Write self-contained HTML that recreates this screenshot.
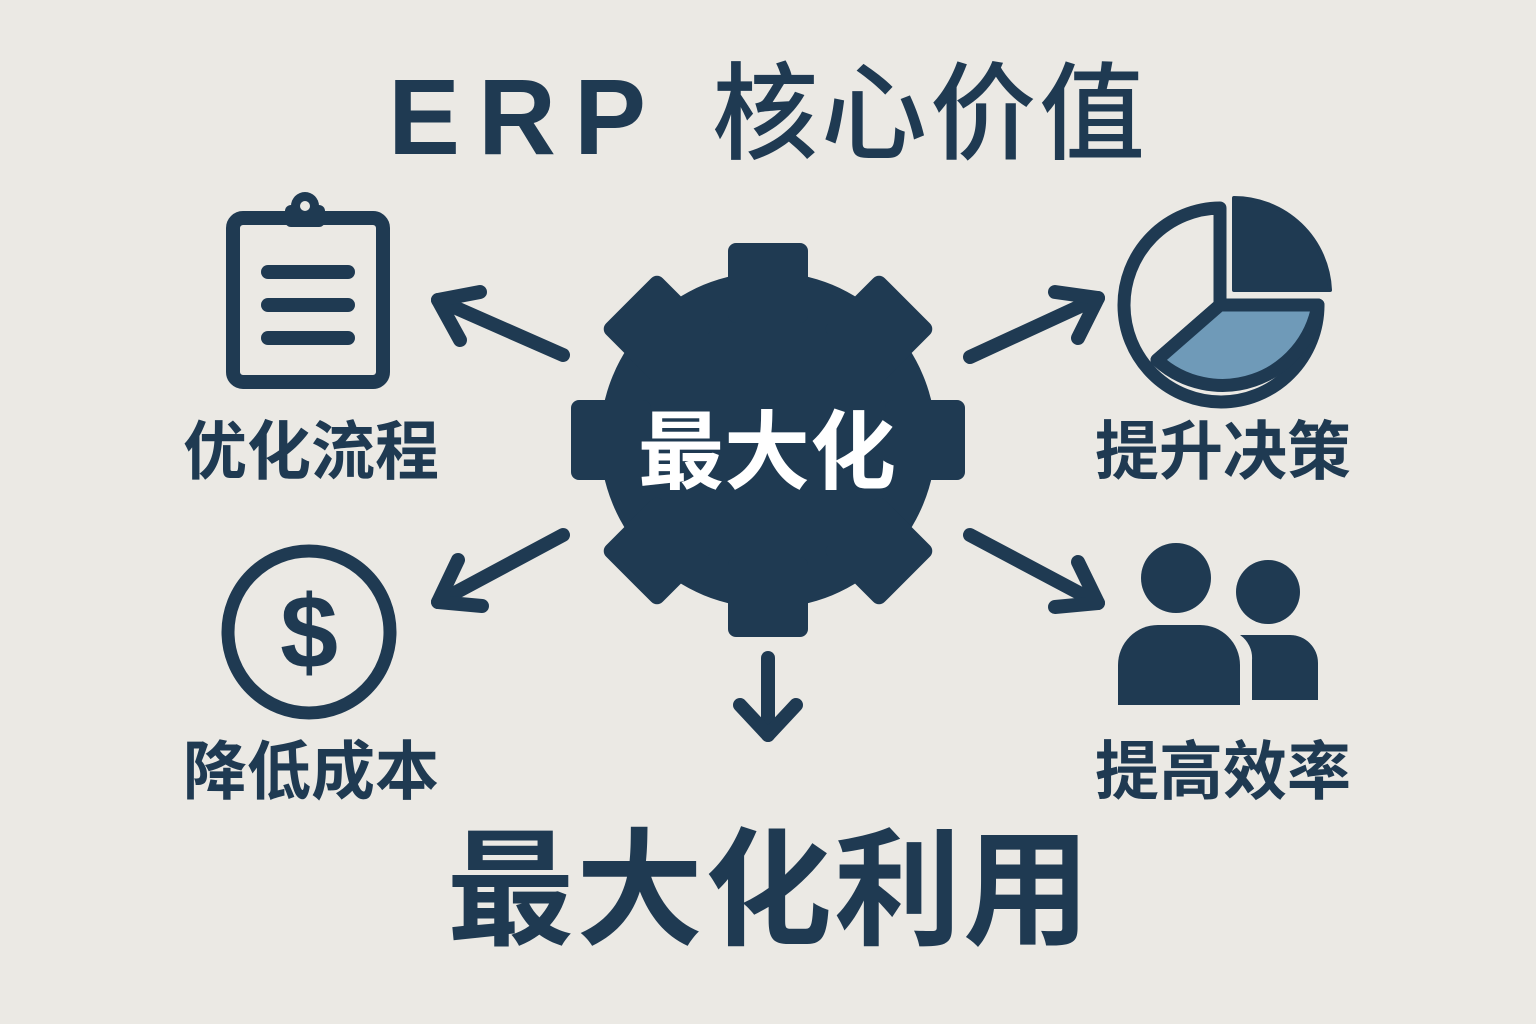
<!DOCTYPE html>
<html><head><meta charset="utf-8"><style>
body{margin:0;width:1536px;height:1024px;background:#ebe9e4;overflow:hidden;font-family:"Liberation Sans","Noto Sans CJK SC",sans-serif;}
.t{position:absolute;color:#1f3a52;font-weight:bold;white-space:nowrap;line-height:1;}
</style></head><body>
<svg width="1536" height="1024" style="position:absolute;left:0;top:0">
<g fill="#1f3a52" transform="translate(768,440)">
<circle r="168"/>
<g id="tooth"><rect x="-40" y="-197" width="80" height="80" rx="8"/></g>
<use href="#tooth" transform="rotate(45)"/><use href="#tooth" transform="rotate(90)"/>
<use href="#tooth" transform="rotate(135)"/><use href="#tooth" transform="rotate(180)"/>
<use href="#tooth" transform="rotate(225)"/><use href="#tooth" transform="rotate(270)"/>
<use href="#tooth" transform="rotate(315)"/>
</g>
<g stroke="#1f3a52" stroke-width="14" stroke-linecap="round" stroke-linejoin="round" fill="none">
<line x1="563" y1="355" x2="438" y2="300"/><polyline points="480,292 438,300 460,340"/>
<line x1="970" y1="357" x2="1098" y2="298"/><polyline points="1055,292 1098,298 1078,338"/>
<line x1="563" y1="535" x2="438" y2="602"/><polyline points="458,560 438,602 482,606"/>
<line x1="970" y1="535" x2="1098" y2="603"/><polyline points="1078,562 1098,603 1055,607"/>
<line x1="768" y1="658" x2="768" y2="735"/><polyline points="740,705 768,735 796,705"/>
<rect x="233" y="218" width="150" height="164" rx="10"/>
<line x1="268" y1="272" x2="348" y2="272"/><line x1="268" y1="305" x2="348" y2="305"/><line x1="268" y1="338" x2="348" y2="338"/>
<circle cx="309" cy="632" r="81" stroke-width="13"/>
<path d="M1220,208 A97,97 0 1 0 1318,305 L1220,305 Z" stroke-width="13"/>
<line x1="1220" y1="305" x2="1157" y2="360" stroke-width="13"/>
</g>
<path d="M1220,305 L1318,305 A97,97 0 0 1 1157,360 Z" fill="#6f9ab8" stroke="#1f3a52" stroke-width="13" stroke-linejoin="round"/>
<path d="M1234,198 A96,96 0 0 1 1330,290 L1234,290 Z" fill="#1f3a52" stroke="#1f3a52" stroke-width="4" stroke-linejoin="round"/>
<g fill="#1f3a52">
<rect x="285" y="205" width="40" height="22" rx="6"/><circle cx="305" cy="206" r="14"/>
<circle cx="305" cy="206" r="5" fill="#ebe9e4"/>
<circle cx="1176" cy="578" r="35"/>
<path d="M1118,705 L1118,665 A40,40 0 0 1 1158,625 L1200,625 A40,40 0 0 1 1240,665 L1240,705 Z"/>
<circle cx="1268" cy="592" r="32"/>
<path d="M1252,700 L1252,660 A28,28 0 0 0 1240,635 L1290,635 A28,28 0 0 1 1318,663 L1318,700 Z"/>
</g>
<text x="309" y="668" text-anchor="middle" font-family="Liberation Sans,sans-serif" font-weight="bold" font-size="104" fill="#1f3a52">$</text>
</svg>
<div class="t" style="left:388px;top:63px;font-size:108px;letter-spacing:18px">ERP</div>
<div class="t" style="left:712px;top:62px;font-size:106px;letter-spacing:3px;font-weight:500">核心价值</div>
<div class="t" style="left:183px;top:420px;font-size:64px">优化流程</div>
<div class="t" style="left:1095px;top:420px;font-size:64px">提升决策</div>
<div class="t" style="left:183px;top:740px;font-size:64px">降低成本</div>
<div class="t" style="left:1095px;top:740px;font-size:64px">提高效率</div>
<div class="t" style="left:638px;top:410px;font-size:86px;color:#fff">最大化</div>
<div class="t" style="left:447px;top:828px;font-size:127px;letter-spacing:2px">最大化利用</div>
</body></html>
